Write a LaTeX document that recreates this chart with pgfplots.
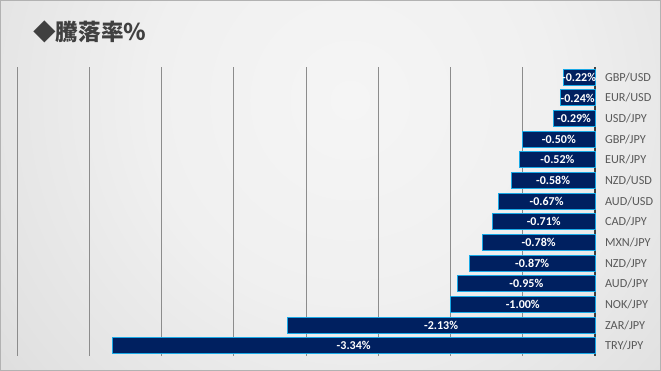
\documentclass[border=0pt]{standalone}
\usepackage{fontspec}
\setmainfont{Carlito}
\newfontfamily\cjk{Noto Sans CJK JP}
\usepackage{pgfplots}
\usepackage{pgfplotstable}
\pgfplotsset{compat=1.18}
\definecolor{barfill}{HTML}{002060}
\definecolor{barline}{HTML}{19A9E6}
\definecolor{labgrey}{HTML}{595959}
\definecolor{titlegrey}{HTML}{404040}
\definecolor{g0}{HTML}{F5F5F5}
\definecolor{g1}{HTML}{F0F0F0}
\definecolor{g2}{HTML}{E2E2E2}
\definecolor{g3}{HTML}{D4D4D4}
\definecolor{g4}{HTML}{C8C8C8}
\definecolor{g5}{HTML}{BCBCBC}
\pgfdeclareradialshading{bgshade}{\pgfpoint{0bp}{0bp}}{color(0bp)=(g0); color(10bp)=(g1); color(20bp)=(g2); color(28bp)=(g3); color(38bp)=(g4); color(50bp)=(g5)}
\pgfplotstableread{
i v
13 -0.22
12 -0.24
11 -0.29
10 -0.50
9 -0.52
8 -0.58
7 -0.67
6 -0.71
5 -0.78
4 -0.87
3 -0.95
2 -1.00
1 -2.13
0 -3.34
}\data
\begin{document}
\begin{tikzpicture}[x=0.75pt,y=0.75pt]
\useasboundingbox (0,0) rectangle (661,371);
\begin{scope}
\clip (0,0) rectangle (661,371);
\shade[shading=bgshade] (350-500,271-500) rectangle (350+500,271+500);
\end{scope}
\draw[color=black!30, line width=0.75pt] (0.5,0.5) rectangle (660.5,370.5);
\node[anchor=west, text=titlegrey, font=\cjk\bfseries\fontsize{17}{20}\selectfont, inner sep=0pt] at (33,339) {◆騰落率％};
\begin{axis}[
  at={(12.75pt,11.25pt)}, anchor=south west,
  scale only axis, width=433.5pt, height=216.75pt,
  xmin=-4, xmax=0, ymin=-0.5, ymax=13.5,
  xtick={-4,-3.5,...,-0.5}, xticklabels={},
  extra x ticks={0}, extra x tick labels={},
  extra x tick style={grid style={draw=black!75, line width=1.5pt}},
  xmajorgrids, grid style={draw=black!45, line width=0.75pt},
  major tick length=0pt,
  ytick={0,...,13},
  yticklabels={TRY/JPY,ZAR/JPY,NOK/JPY,AUD/JPY,NZD/JPY,MXN/JPY,CAD/JPY,AUD/USD,NZD/USD,EUR/JPY,GBP/JPY,USD/JPY,EUR/USD,GBP/USD},
  yticklabel pos=right,
  yticklabel style={font=\fontsize{9.2}{11}\selectfont, text=labgrey, xshift=4pt},
  axis line style={draw=none},
  clip=false,
]
\addplot[xbar, bar width=12pt, bar shift=0pt, fill=barfill, draw=barline, line width=0.75pt] table[x=v, y=i] {\data};
\addplot[draw=none, mark=none, nodes near coords={\pgfplotspointmeta\%}, point meta=explicit symbolic,
  every node near coord/.style={anchor=center, text=white, font=\bfseries\fontsize{9}{11}\selectfont, inner sep=0pt}]
  table[x expr=\thisrow{v}/2, y=i, meta=v] {\data};
\end{axis}
\end{tikzpicture}
\end{document}
